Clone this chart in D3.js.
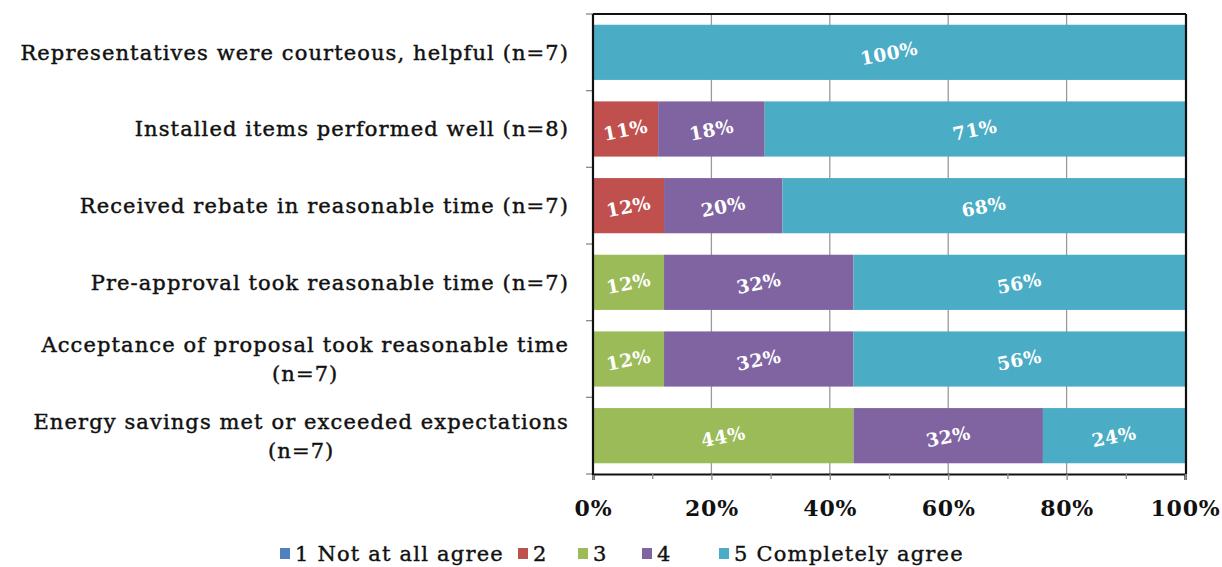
<!DOCTYPE html>
<html>
<head>
<meta charset="utf-8">
<script src="https://cdn.jsdelivr.net/npm/d3@7"></script>
<style>
  html, body { margin: 0; padding: 0; background: #ffffff; }
  svg { display: block; }
  text { font-family: "DejaVu Serif", "Liberation Serif", serif; }
</style>
</head>
<body>
<svg id="chart" width="1222" height="567"></svg>
<script>
// Survey statements (top to bottom), each may wrap onto two lines
const categories = [
  "Representatives were courteous, helpful (n=7)",
  "Installed items performed well (n=8)",
  "Received rebate in reasonable time (n=7)",
  "Pre-approval took reasonable time (n=7)",
  "Acceptance of proposal took reasonable time|(n=7)",
  "Energy savings met or exceeded expectations|(n=7)"
];

// Response levels (stack order, left to right)
const seriesNames = ["1 Not at all agree", "2", "3", "4", "5 Completely agree"];
const seriesColors = ["#4F81BD", "#C0504D", "#9BBB59", "#8064A2", "#4BACC6"];

// Share of respondents (%) per level, one array per level, aligned with categories
const level1 = [0, 0, 0, 0, 0, 0];
const level2 = [0, 11, 12, 0, 0, 0];
const level3 = [0, 0, 0, 12, 12, 44];
const level4 = [0, 18, 20, 32, 32, 32];
const level5 = [100, 71, 68, 56, 56, 24];

const tickValues = [0, 0.2, 0.4, 0.6, 0.8, 1.0];
const minorTickValues = [0.1, 0.3, 0.5, 0.7, 0.9];

const seriesValues = [level1, level2, level3, level4, level5];
const rows = categories.map((c, i) => {
  const r = { category: c };
  seriesNames.forEach((s, k) => { r[s] = seriesValues[k][i] / 100; });
  return r;
});

const svg = d3.select("#chart");
const plot = { left: 593, right: 1185, top: 14, bottom: 474 };

const x = d3.scaleLinear().domain([0, 1]).range([plot.left, plot.right]);
const y = d3.scaleBand().domain(categories).range([plot.top, plot.bottom])
  .paddingInner(0.28).paddingOuter(0.14);
const color = d3.scaleOrdinal().domain(seriesNames).range(seriesColors);

// Vertical gridlines
svg.append("g")
  .selectAll("line")
  .data(tickValues.filter(v => v > 0 && v < 1))
  .join("line")
  .attr("x1", d => x(d)).attr("x2", d => x(d))
  .attr("y1", plot.top).attr("y2", plot.bottom)
  .attr("stroke", "#9a9a9a").attr("stroke-width", 1.3);

// Stacked bars
const stack = d3.stack().keys(seriesNames);
const stacked = stack(rows);

const layers = svg.append("g")
  .selectAll("g")
  .data(stacked)
  .join("g")
  .attr("fill", d => color(d.key));

layers.selectAll("rect")
  .data(d => d)
  .join("rect")
  .attr("x", d => x(d[0]))
  .attr("y", d => y(d.data.category))
  .attr("width", d => x(d[1]) - x(d[0]))
  .attr("height", y.bandwidth());

// Value labels, slightly tilted, centred in each segment
const labels = svg.append("g");
stacked.forEach(layer => {
  layer.forEach(d => {
    const v = d[1] - d[0];
    if (v <= 0) return;
    const cx = (x(d[0]) + x(d[1])) / 2;
    const cy = y(d.data.category) + y.bandwidth() / 2;
    labels.append("text")
      .attr("transform", `translate(${cx},${cy + 1}) rotate(-11)`)
      .attr("text-anchor", "middle")
      .attr("dy", "0.35em")
      .attr("fill", "#ffffff")
      .attr("font-weight", "bold")
      .attr("font-size", 18.5)
      .attr("letter-spacing", 0.5)
      .text(Math.round(v * 100) + "%");
  });
});

// Plot frame: top and right edges
svg.append("line").attr("x1", plot.left).attr("x2", plot.right + 1)
  .attr("y1", plot.top).attr("y2", plot.top)
  .attr("stroke", "#111").attr("stroke-width", 2.2);
svg.append("line").attr("x1", plot.right + 1).attr("x2", plot.right + 1)
  .attr("y1", plot.top).attr("y2", plot.bottom)
  .attr("stroke", "#111").attr("stroke-width", 2.2);

// Bottom axis
const xAxis = d3.axisBottom(x).tickValues(tickValues)
  .tickFormat(d3.format(".0%")).tickSize(6).tickPadding(20);
const gx = svg.append("g").attr("transform", `translate(0,${plot.bottom})`).call(xAxis);
gx.select(".domain").attr("stroke", "#111").attr("stroke-width", 2.2);
gx.selectAll(".tick line").attr("stroke", "#8a8a8a").attr("stroke-width", 1.3);
gx.selectAll(".tick text")
  .attr("font-size", 22).attr("font-weight", "bold").attr("fill", "#111")
  .attr("letter-spacing", 0.8)
  .style("font-family", "'DejaVu Serif', serif");
svg.append("g").attr("transform", `translate(0,${plot.bottom})`)
  .call(d3.axisBottom(x).tickValues(minorTickValues).tickSize(5).tickFormat(""))
  .call(g => g.select(".domain").remove())
  .selectAll(".tick line").attr("stroke", "#8a8a8a").attr("stroke-width", 1.3);

// Left axis: line plus boundary ticks between categories
const boundaries = d3.range(categories.length + 1).map(i =>
  plot.top + i * (plot.bottom - plot.top) / categories.length);
svg.append("g").selectAll("line").data(boundaries).join("line")
  .attr("x1", plot.left - 7).attr("x2", plot.left)
  .attr("y1", d => d).attr("y2", d => d)
  .attr("stroke", "#8a8a8a").attr("stroke-width", 1.3);
svg.append("line").attr("x1", plot.left).attr("x2", plot.left)
  .attr("y1", plot.top).attr("y2", plot.bottom + 1)
  .attr("stroke", "#111").attr("stroke-width", 2.2);

// Category labels: right-aligned block, wrapped lines centred within it
const catG = svg.append("g");
const labelRight = 569;
const lineGap = 29;
categories.forEach(c => {
  const lines = c.split("|");
  const cy = y(c) + y.bandwidth() / 2;
  const t = catG.append("text")
    .attr("font-size", 21)
    .attr("letter-spacing", 1.1)
    .attr("fill", "#111")
    .attr("stroke", "#111")
    .attr("stroke-width", 0.45)
    .attr("text-anchor", "middle");
  const spans = lines.map((ln, i) => t.append("tspan")
    .attr("y", cy + (i - (lines.length - 1) / 2) * lineGap)
    .attr("dy", "0.35em")
    .text(ln));
  const w = d3.max(spans, s => s.node().getComputedTextLength());
  spans.forEach(s => s.attr("x", labelRight - w / 2));
});

// Legend
const legendItems = [
  { name: seriesNames[0], x: 280 },
  { name: seriesNames[1], x: 518 },
  { name: seriesNames[2], x: 578 },
  { name: seriesNames[3], x: 642 },
  { name: seriesNames[4], x: 719 }
];
const lg = svg.append("g").attr("transform", "translate(0,554)");
legendItems.forEach(it => {
  lg.append("rect").attr("x", it.x).attr("y", -6).attr("width", 10).attr("height", 11)
    .attr("fill", color(it.name));
  lg.append("text").attr("x", it.x + 15).attr("y", 0).attr("dy", "0.35em")
    .attr("font-size", 21).attr("letter-spacing", 1.2)
    .attr("fill", "#111").attr("stroke", "#111").attr("stroke-width", 0.4)
    .text(it.name);
});
</script>
</body>
</html>
